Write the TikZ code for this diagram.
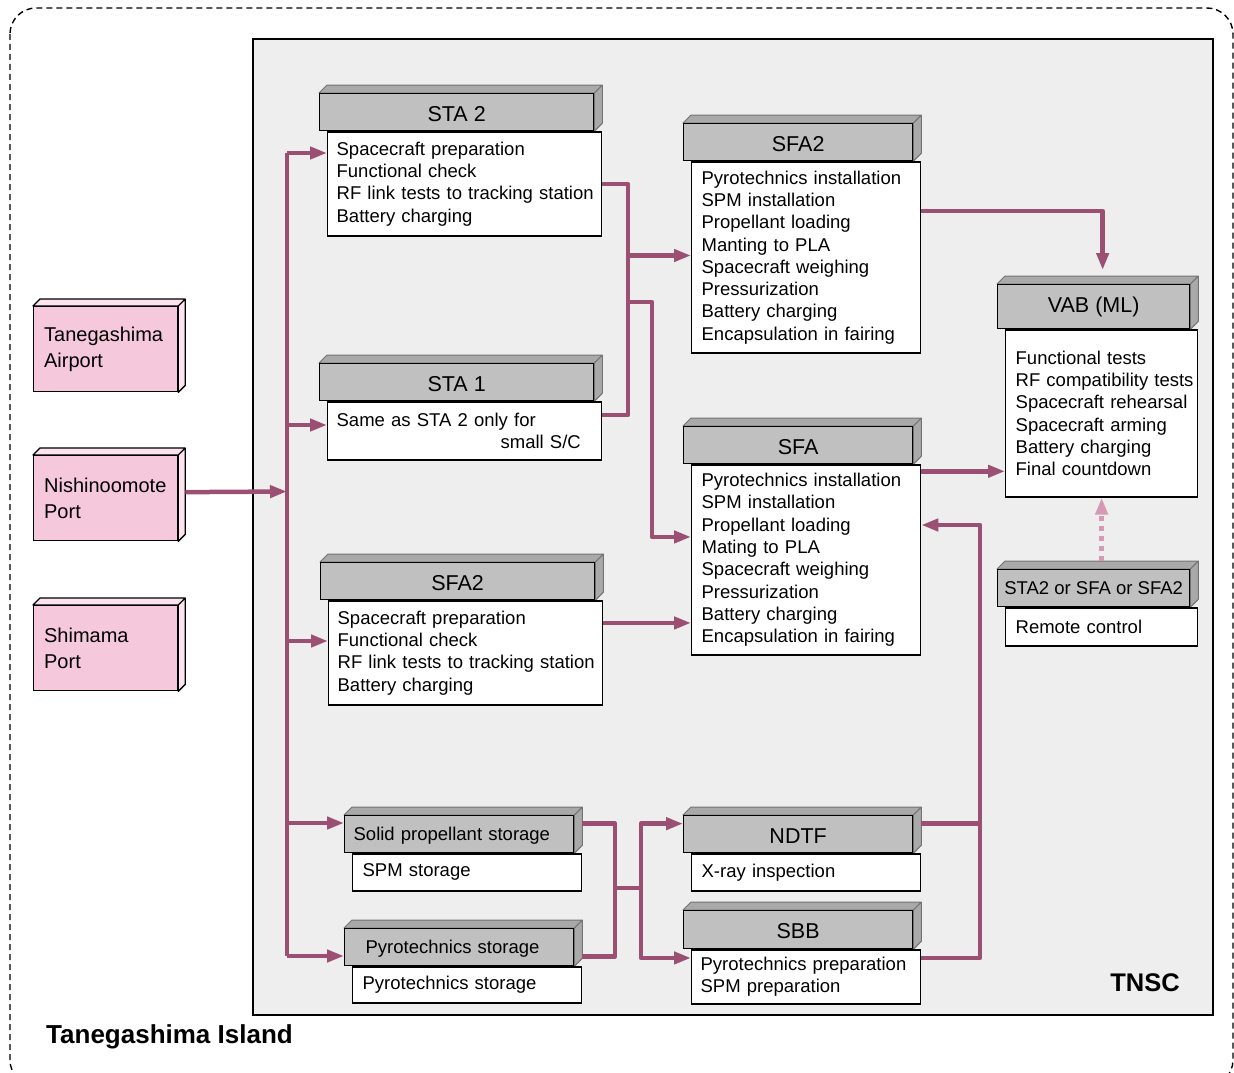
\documentclass[tikz,border=0pt]{standalone}
\usepackage{fontspec}
\setmainfont{Liberation Sans}
\usetikzlibrary{arrows.meta,positioning}

\definecolor{flow}{HTML}{9B5073}
\definecolor{flowlight}{HTML}{D49AB6}
\definecolor{pinkface}{HTML}{F6C8DB}
\definecolor{pinkside}{HTML}{FCE4EE}
\definecolor{hdrface}{HTML}{C0C0C0}
\definecolor{hdrside}{HTML}{A9A9A9}
\definecolor{siteback}{HTML}{EEEEEE}

\pgfdeclarelayer{background}
\pgfsetlayers{background,main}

\begin{document}
\begin{tikzpicture}
        [x=1pt, y=-1pt, >={Triangle[length=17pt,width=12pt]},
         hdr/.style={draw=black, line width=1.3pt, fill=hdrface, minimum height=37pt, inner sep=0pt, text height=18pt, text depth=0pt, anchor=north west, font=\fontsize{21.5}{24}\selectfont},
         smallhdr/.style={hdr, text height=13pt, font=\fontsize{18.5}{22}\selectfont},
         body/.style={draw=black, line width=1.3pt, fill=white, inner sep=0pt, align=left, execute at begin node={\leftskip=10pt\relax}, font=\fontsize{18.5}{22.3}\selectfont},
         place/.style={draw=black, line width=1.3pt, fill=pinkface, minimum height=85pt, text width=144pt, inner sep=0pt, align=left, execute at begin node={\leftskip=10.5pt\relax}, anchor=north west, font=\fontsize{20}{26}\selectfont},
         link/.style={draw=flow, line width=4.5pt, line join=round}]

        \useasboundingbox (0,0) rectangle (1234,1073);
        \draw[dashed, dash pattern=on 6pt off 4pt, line width=1.4pt, rounded corners=26pt] (10,8) rectangle (1233,1086);

        % ports
        \node[place] (airport) at (33,306) {Tanegashima\\Airport};
        \node[place] (nishi) at (33,455) {Nishinoomote\\Port};
        \node[place] (shimama) at (33,605) {Shimama\\Port};

        % buildings: header + list of work
        \node[hdr, minimum width=274pt] (sta2) at (319,93) {STA 2};
        \node[body, text width=274pt, minimum height=104pt, execute at begin node={\leftskip=9pt\relax}, below right=0pt and 8pt of sta2.south west] (sta2b)
            {Spacecraft preparation\\Functional check\\RF link tests to tracking station\\Battery charging};

        \node[hdr, minimum width=274pt] (sta1) at (319,363) {STA 1};
        \node[body, text width=274pt, minimum height=58pt, execute at begin node={\leftskip=9pt\relax}, below right=0pt and 8pt of sta1.south west] (sta1b)
            {Same as STA 2 only for\\\hspace*{164pt}small S/C};

        \node[hdr, minimum width=274pt] (sfa2l) at (320,562) {SFA2};
        \node[body, text width=274pt, minimum height=104pt, execute at begin node={\leftskip=9pt\relax}, below right=0pt and 8pt of sfa2l.south west] (sfa2lb)
            {Spacecraft preparation\\Functional check\\RF link tests to tracking station\\Battery charging};

        \node[hdr, minimum width=229pt] (sfa2r) at (683,123) {SFA2};
        \node[body, text width=229pt, minimum height=191pt, below right=0pt and 8pt of sfa2r.south west] (sfa2rb)
            {Pyrotechnics installation\\SPM installation\\Propellant loading\\Manting to PLA\\Spacecraft weighing\\Pressurization\\Battery charging\\Encapsulation in fairing};

        \node[hdr, minimum width=229pt] (sfa) at (683,426) {SFA};
        \node[body, text width=229pt, minimum height=190pt, below right=0pt and 8pt of sfa.south west] (sfab)
            {Pyrotechnics installation\\SPM installation\\Propellant loading\\Mating to PLA\\Spacecraft weighing\\Pressurization\\Battery charging\\Encapsulation in fairing};

        \node[hdr, minimum width=192pt, minimum height=44pt, text height=12pt] (vab) at (997,284) {VAB (ML)};
        \node[body, text width=192pt, minimum height=167pt, below right=0pt and 8pt of vab.south west] (vabb)
            {Functional tests\\RF compatibility tests\\Spacecraft rehearsal\\Spacecraft arming\\Battery charging\\Final countdown\\[6pt]};

        \node[smallhdr, minimum width=192pt] (rc) at (997,569) {STA2 or SFA or SFA2};
        \node[body, text width=192pt, minimum height=38pt, below right=0pt and 8pt of rc.south west] (rcb) {Remote control};

        \node[smallhdr, text width=211pt, inner xsep=9pt, align=left] (solid) at (344,815) {Solid propellant storage};
        \node[body, text width=229pt, minimum height=37pt, below right=0pt and 8pt of solid.south west] (solidb) {SPM storage};

        \node[smallhdr, text width=187pt, inner xsep=21pt, align=left] (pyro) at (344,928) {Pyrotechnics storage};
        \node[body, text width=229pt, minimum height=36pt, below right=0pt and 8pt of pyro.south west] (pyrob) {Pyrotechnics storage};

        \node[hdr, minimum width=229pt] (ndtf) at (683,815) {NDTF};
        \node[body, text width=229pt, minimum height=37pt, below right=0pt and 8pt of ndtf.south west] (ndtfb) {X-ray inspection};

        \node[hdr, minimum width=229pt, minimum height=38pt] (sbb) at (683,910) {SBB};
        \node[body, text width=229pt, minimum height=54pt, execute at begin node={\leftskip=9pt\relax}, below right=0pt and 8pt of sbb.south west] (sbbb)
            {Pyrotechnics preparation\\SPM preparation};

        \node[anchor=west, inner sep=0pt, font=\bfseries\fontsize{26}{28}\selectfont] (island) at (46,1037) {Tanegashima Island};
        \node[anchor=east, inner sep=0pt, font=\bfseries\fontsize{25.5}{28}\selectfont] (tnsc) at (1180,983) {TNSC};

        % site area and the 3D faces go behind
        \begin{pgfonlayer}{background}
        \draw[line width=1.3pt, fill=siteback] (253,39) rectangle (1213,1015);
        \foreach \n in {sta2,sta1,sfa2l,sfa2r,sfa,vab,rc,solid,pyro,ndtf,sbb}
        \filldraw[fill=hdrside, draw=black!55, line width=1pt, line join=round]
            (\n.north west) -- ++(8,-8) -| ([shift={(8,-8)}]\n.south east) -- (\n.south east) -- (\n.north east) -- cycle
            (\n.north east) -- ++(8,-8);
        \foreach \n in {airport,nishi,shimama}
        \filldraw[fill=pinkside, draw=black, line width=1.3pt, line join=round]
            (\n.north west) -- ++(7,-7) -| ([shift={(7,-7)}]\n.south east) -- (\n.south east) -- (\n.north east) -- cycle
            (\n.north east) -- ++(7,-7);
        \end{pgfonlayer}

        % trunk from the port
        \coordinate (bus-top) at (287,153);
        \coordinate (bus-bot) at (287,956);
        \coordinate (bus-in) at (287,491.5);
        \draw[link] (bus-top) -- (bus-bot);
        \draw[link,->] ([xshift=7pt,yshift=6pt]nishi.east) -- (bus-in);

        \foreach \t/\y in {sta2b/153, sta1b/425, sfa2lb/641, solid/823, pyro/956} {
            \coordinate (tap) at (287,\y);
            \draw[link,->] (tap) -- (tap -| \t.west);
        }

        % STA 2 / STA 1 into SFA2 and SFA
        \coordinate (merge) at (628,255.5);
        \coordinate (split) at (628,302);
        \draw[link] (sta2b.east) -| (merge) |- ([yshift=16pt]sta1b.east);
        \draw[link,->] (merge) -- (merge -| sfa2rb.west);
        \draw[link,->] (split) -- ++(24,0) |- ([yshift=23pt]sfab.west);

        \coordinate (sfa2l-out) at ([yshift=30pt]sfa2lb.east);
        \draw[link,->] (sfa2l-out) -- (sfa2l-out -| sfab.west);

        % to VAB
        \draw[link,->] ([yshift=46.5pt]sfa2rb.east) -| ([xshift=9pt,yshift=14pt]vab.north);
        \coordinate (sfa-out) at ([yshift=-7pt]sfab.north east);
        \draw[link,->] (sfa-out) -- (sfa-out -| vabb.west);

        \coordinate (rc-top) at ([yshift=8pt]rc.north);
        \draw[link, draw=flowlight, line width=5pt, dash pattern=on 5pt off 5pt, -{Triangle[length=17pt,width=12pt,fill=flowlight]}]
            (rc-top -| vabb.south) -- (vabb.south);

        % storage -> NDTF / SBB -> SFA
        \coordinate (st-join) at (615,888);
        \coordinate (st-fork) at (641,888);
        \draw[link] ([xshift=8pt,yshift=10.5pt]solid.east) -| (st-join) |- ([xshift=8pt,yshift=-9.5pt]pyro.east);
        \draw[link] (st-join) -- (st-fork);
        \draw[link,->] (st-fork) |- ([yshift=10.5pt]ndtf.west);
        \draw[link,->] (st-fork) |- ([yshift=19pt]sbbb.west);

        \coordinate (ret) at (980,525);
        \draw[link] ([xshift=8pt,yshift=10.5pt]ndtf.east) -| (ret);
        \draw[link,->] ([yshift=19pt]sbbb.east) -| (ret) -- (ret -| sfab.east);
    \end{tikzpicture}
\end{document}
